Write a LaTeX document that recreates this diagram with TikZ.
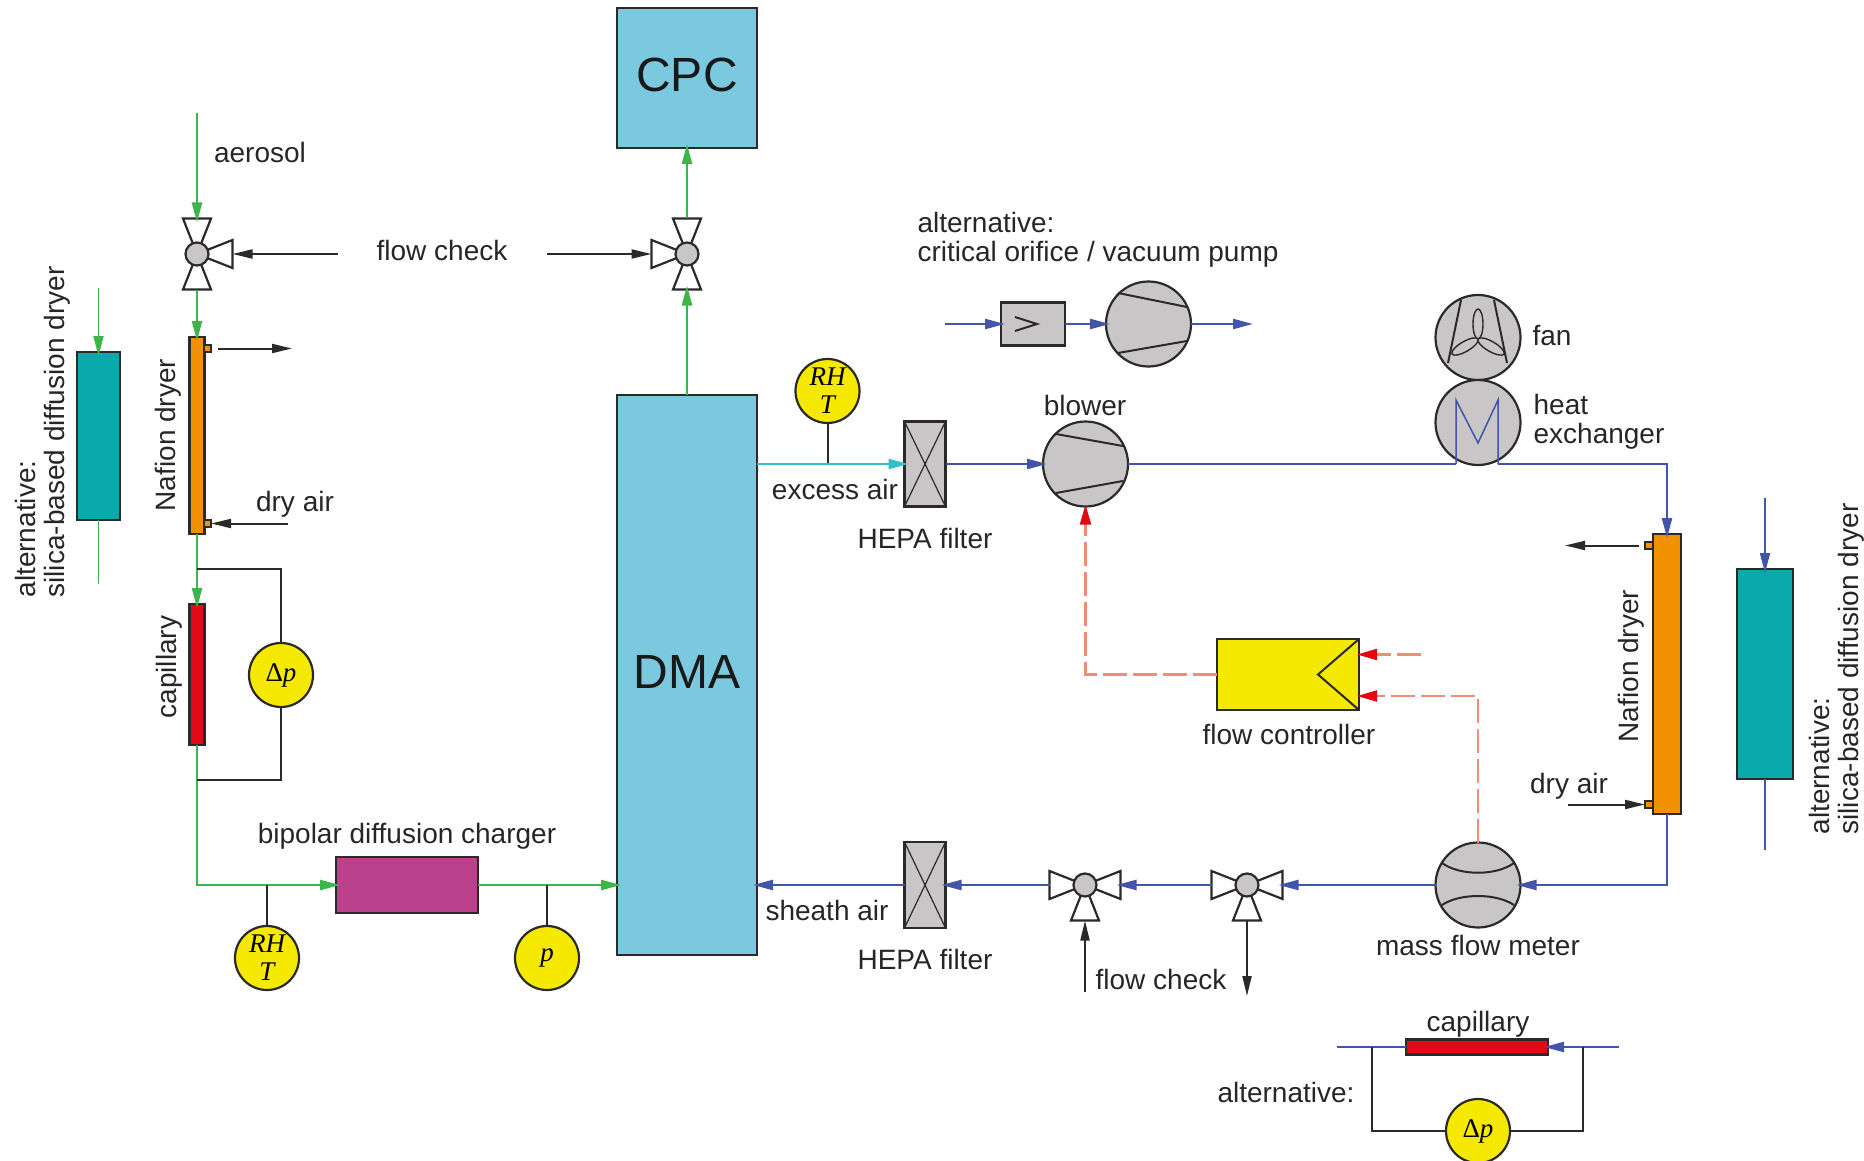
\documentclass[tikz,border=0pt]{standalone}
\usepackage{fontspec}
\setmainfont{Liberation Sans}
\newfontfamily\gaugefont{Liberation Serif}
\usetikzlibrary{arrows.meta}

\definecolor{outl}{HTML}{2B2A29}
\definecolor{dmablue}{HTML}{7AC9DE}
\definecolor{greyfill}{HTML}{C8C6C6}
\definecolor{aerogreen}{HTML}{3CB54A}
\definecolor{airblue}{HTML}{4355A8}
\definecolor{excesscyan}{HTML}{35C0C8}
\definecolor{dryorange}{HTML}{F39200}
\definecolor{capred}{HTML}{E20A16}
\definecolor{chargerpink}{HTML}{BC418D}
\definecolor{gaugeyellow}{HTML}{F5E900}
\definecolor{silicateal}{HTML}{0AA9AB}
\definecolor{signalsalmon}{HTML}{F28C78}
\definecolor{tipred}{HTML}{E30613}

\tikzset{
  unit/.style={draw=outl, line width=2.2pt, inner sep=0pt, outer sep=0pt},
  sized/.style 2 args={unit, rectangle, minimum width=#1pt, minimum height=#2pt},
  machine/.style={unit, circle, fill=greyfill, minimum size=85pt},
  gauge/.style={unit, circle, fill=gaugeyellow, minimum size=64pt, inner sep=-6pt, align=center,
    font=\gaugefont\fontsize{27}{28}\selectfont\itshape},
  valvehub/.style={unit, circle, fill=greyfill, minimum size=23pt},
  vanearm/.style={draw=outl, line width=2.2pt, fill=white, line join=miter},
  lab/.style={inner sep=0pt, align=left, text=black!85, font=\fontsize{28}{29}\selectfont},
  biglab/.style={text=black!90, font=\fontsize{48}{50}\selectfont},
  flowtip/.style={-{Triangle[length=20pt,width=10pt]}, shorten >=-4pt},
  aero/.style={draw=aerogreen, line width=2.4pt},
  sheath/.style={draw=airblue, line width=2.4pt},
  excess/.style={draw=excesscyan, line width=2pt},
  signal/.style={draw=signalsalmon, line width=2.2pt, dash pattern=on 24pt off 6pt},
  signaltip/.style={-{Triangle[length=20pt,width=11pt,color=tipred]}, shorten >=-2pt},
  aux/.style={draw=outl, line width=2pt},
  auxtip/.style={-{Triangle[length=20pt,width=9pt]}},
  inner/.style={draw=outl, line width=2pt}
}

\newcommand{\valve}[3]{
  \foreach \a in {#3}{
    \draw[vanearm, shift={(#2)}, rotate=\a] (0,0) -- (35.5,14) -- (35.5,-14) -- cycle (35.5,0) coordinate (#1-\a);
  }
  \node[valvehub] (#1) at (#2) {};
}

\begin{document}
\begin{tikzpicture}[x=1pt, y=-1pt]
\useasboundingbox (0,0) rectangle (1864,1161);

\node[sized={140}{140}, fill=dmablue] (cpc) at (687,78) {};
\node[biglab] (cpclab) at (687,75) {CPC};
\node[sized={140}{560}, fill=dmablue] (dma) at (687,675) {};
\node[biglab] (dmalab) at (687,672) {DMA};

\valve{valveone}{197,254}{0,90,270}
\valve{valvetwo}{687,254}{180,90,270}
\valve{valvesheath}{1085,885}{0,180,270}
\valve{valvemeter}{1247,885}{0,180,270}

\node[sized={15}{197}, fill=dryorange] (nafionl) at (197,435.5) {};
\node[sized={7}{7}, fill=dryorange] (portla) at (207.5,348.5) {};
\node[sized={7}{7}, fill=dryorange] (portlb) at (207.5,523.5) {};
\node[sized={15}{141}, fill=capred] (capl) at (197,674.5) {};
\node[sized={43}{168}, fill=silicateal] (silical) at (98.5,436) {};
\node[sized={142}{56}, fill=chargerpink] (charger) at (407,885) {};
\node[gauge] (dpl) at (281,675) {{\upshape Δ}p};
\node[gauge] (rhtb) at (267,958) {RH\\T};
\node[gauge] (pgauge) at (547,958) {p};
\node[gauge] (rhtt) at (827.5,391) {RH\\T};

\node[sized={41}{85}, fill=greyfill] (hepat) at (925,464) {};
\node[sized={41}{86}, fill=greyfill] (hepab) at (925,885) {};
\foreach \f in {hepat,hepab}{
  \draw[inner, line width=1.2pt] (\f.north west) -- (\f.south east) (\f.north east) -- (\f.south west);
}

\node[machine] (blower) at (1085.5,464) {};
\draw[inner] (1056,434) -- (1123,446) (1056,493) -- (1123,481);
\node[machine] (pump) at (1148.5,324) {};
\draw[inner] (1118,293) -- (1187,307) (1118,353) -- (1187,341);
\node[sized={64}{43}, fill=greyfill] (orifice) at (1033,324) {};
\draw[inner] (1015,317) -- (1037,324) -- (1015,331);

\node[machine] (fan) at (1478,337.5) {};
\draw[inner] (1461,300) -- (1448,363) (1494,300) -- (1507,363);
\foreach \a in {0,120,240}{
  \draw[inner, line width=1.4pt, shift={(1478,339)}, rotate=\a] (0,-15) ellipse (5 and 15);
}
\node[machine] (exch) at (1478,422.5) {};

\node[sized={142}{71}, fill=gaugeyellow] (fctrl) at (1288,674.5) {};
\draw[inner] (fctrl.north east) -- (1318,674.5) -- (fctrl.south east);

\node[sized={28}{280}, fill=dryorange] (nafionr) at (1667,674) {};
\node[sized={8}{7}, fill=dryorange] (portra) at (1649,545.5) {};
\node[sized={8}{7}, fill=dryorange] (portrb) at (1649,804.5) {};
\node[sized={56}{210}, fill=silicateal] (silicar) at (1765,674) {};

\node[machine] (meter) at (1478,885) {};
\draw[inner] (1442,863) .. controls (1460,876) and (1496,876) .. (1514,863);
\draw[inner] (1442,905) .. controls (1460,893) and (1496,893) .. (1514,905);

\node[sized={142}{15}, fill=capred] (capb) at (1477,1047) {};
\node[gauge] (dpb) at (1478,1131) {{\upshape Δ}p};

\coordinate (aerosolin) at (197,113);
\coordinate (silicalin) at (98.5,288);
\coordinate (silicalout) at (98.5,584);
\coordinate (orificein) at (945,324);
\coordinate (pumpout) at (1249,324);
\coordinate (coilin) at (1456,464);
\coordinate (coilout) at (1498,464);
\coordinate (corner) at (1667,464);
\coordinate (silicarin) at (1765,498);
\coordinate (silicarout) at (1765,850);
\coordinate (capbin) at (1619,1047);
\coordinate (capbout) at (1337,1047);
\coordinate (refin) at (1421,654.5);
\coordinate (checkl) at (338,254);
\coordinate (checkr) at (547,254);
\coordinate (checka) at (1085,992);
\coordinate (checkb) at (1247,996);
\coordinate (naflout) at (292,348.5);
\coordinate (naflstart) at (218,348.5);
\coordinate (nafldry) at (288,523.5);
\coordinate (nafrout) at (1565,545.5);
\coordinate (nafrstart) at (1639,545.5);
\coordinate (nafrdry) at (1568,804.5);

\draw[aero, flowtip] (aerosolin) -- (valveone-90);
\draw[aero, flowtip] (valveone-270) -- (nafionl.north);
\draw[aero, flowtip] (nafionl.south) -- (capl.north);
\draw[aero, flowtip] (capl.south) |- (charger.west);
\draw[aero, flowtip] (charger.east) -- (charger.east -| dma.west);
\draw[aero, flowtip] (dma.north) -- (valvetwo-270);
\draw[aero, flowtip] (valvetwo-90) -- (cpc.south);
\draw[aero, line width=1.8pt, flowtip] (silicalin) -- (silical.north);
\draw[aero, line width=1.8pt] (silical.south) -- (silicalout);

\draw[aux, auxtip] (checkl) -- (valveone-0);
\draw[aux, auxtip] (checkr) -- (valvetwo-180);
\draw[aux, auxtip] (naflstart) -- (naflout);
\draw[aux, auxtip] (nafldry) -- (portlb.east);
\draw[aux, auxtip] (nafrstart) -- (nafrout);
\draw[aux, auxtip] (nafrdry) -- (portrb.west);
\draw[aux, auxtip] (checka) -- (valvesheath-270);
\draw[aux, auxtip] (valvemeter-270) -- (checkb);

\draw[aux] (capl.north |- 0,569) -| (dpl.north);
\draw[aux] (dpl.south) |- (capl.south |- 0,780);
\draw[aux] (rhtb.north) -- (rhtb.north |- charger.west);
\draw[aux] (pgauge.north) -- (pgauge.north |- charger.west);
\draw[aux] (rhtt.south) -- (rhtt.south |- hepat.west);

\draw[excess, flowtip] (dma.east |- hepat.west) -- (hepat.west);
\draw[sheath, flowtip] (hepat.east) -- (blower.west);
\draw[sheath] (blower.east) -- (coilin);
\draw[sheath, line width=1.5pt] (coilin) -- (1456,400) -- (1478,443) -- (1498,400) -- (coilout);
\draw[sheath, flowtip] (coilout) -- (corner) -- (nafionr.north);
\draw[sheath, flowtip] (orificein) -- (orifice.west);
\draw[sheath, flowtip] (orifice.east) -- (pump.west);
\draw[sheath, flowtip] (pump.east) -- (pumpout);
\draw[sheath, flowtip] (nafionr.south) |- (meter.east);
\draw[sheath, flowtip] (meter.west) -- (valvemeter-0);
\draw[sheath, flowtip] (valvemeter-180) -- (valvesheath-0);
\draw[sheath, flowtip] (valvesheath-180) -- (hepab.east);
\draw[sheath, flowtip] (hepab.west) -- (hepab.west -| dma.east);
\draw[sheath, line width=1.8pt, flowtip] (silicarin) -- (silicar.north);
\draw[sheath, line width=1.8pt] (silicar.south) -- (silicarout);
\draw[sheath, flowtip] (capbin) -- (capb.east);
\draw[sheath] (capb.west) -- (capbout);
\draw[aux] (1583,1047) |- (dpb.east);
\draw[aux] (dpb.west) -| (1372,1047);

\draw[signal, signaltip] (fctrl.west) -| (blower.south);
\draw[signal, signaltip] (refin) -- (refin -| fctrl.east);
\draw[signal, signaltip] (meter.north) |- (1359,696);

\node[lab] (aerosollab) at (260,152.5) {aerosol};
\node[lab] (checktop) at (442,250.5) {flow check};
\node[lab] (drylab) at (295,504.5) {dry air};
\node[lab, rotate=90] (nafllab) at (168,435) {Nafion dryer};
\node[lab, rotate=90] (caplab) at (169,667) {capillary};
\node[lab, rotate=90] (silicallab) at (43,432) {alternative:\\silica-based diffusion dryer};
\node[lab] (chargerlab) at (407,836) {bipolar diffusion charger};
\node[lab] (excesslab) at (835,489) {excess air};
\node[lab] (hepatlab) at (925,538) {HEPA filter};
\node[lab] (altpump) at (1098,240) {alternative:\\critical orifice / vacuum pump};
\node[lab] (blowerlab) at (1085,405) {blower};
\node[lab] (fanlab) at (1552,336) {fan};
\node[lab] (exchlab) at (1599,422) {heat\\exchanger};
\node[lab] (fctrllab) at (1289,734.5) {flow controller};
\node[lab] (sheathlab) at (827,910) {sheath air};
\node[lab] (hepablab) at (925,959) {HEPA filter};
\node[lab] (checkbot) at (1161,979.5) {flow check};
\node[lab] (meterlab) at (1478,945.5) {mass flow meter};
\node[lab] (capblab) at (1478,1024) {capillary};
\node[lab] (altcap) at (1286,1092.5) {alternative:};
\node[lab] (dryrlab) at (1569,786) {dry air};
\node[lab, rotate=90] (nafrlab) at (1631,666) {Nafion dryer};
\node[lab, rotate=90] (silicarlab) at (1837,669) {alternative:\\silica-based diffusion dryer};
\end{tikzpicture}
\end{document}
